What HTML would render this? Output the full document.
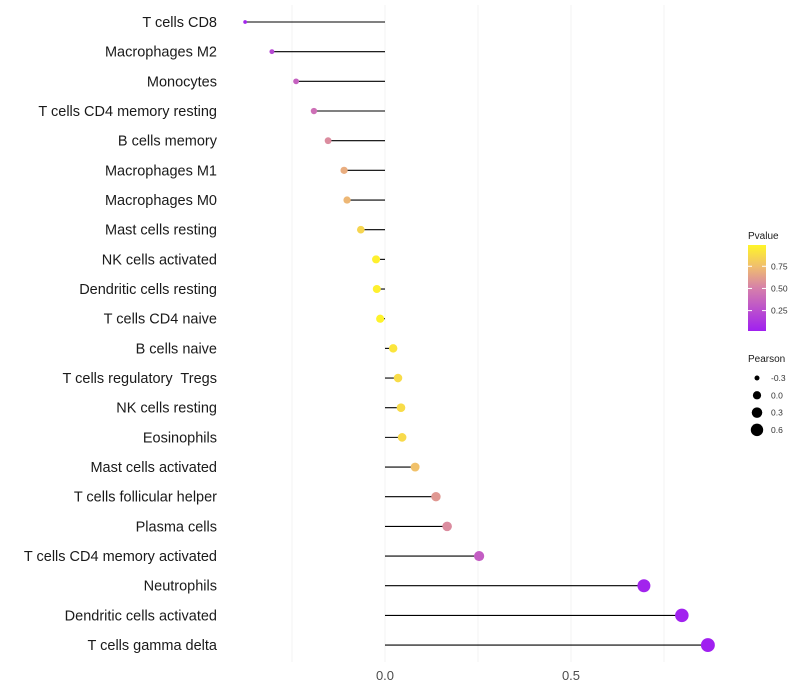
<!DOCTYPE html>
<html><head><meta charset="utf-8"><style>
body{margin:0;background:#fff;font-family:"Liberation Sans",sans-serif;}
svg{display:block}
text{white-space:pre}
</style></head><body>
<svg id="chart" width="800" height="700"></svg>
<script>
const categories=["T cells CD8","Macrophages M2","Monocytes","T cells CD4 memory resting","B cells memory","Macrophages M1","Macrophages M0","Mast cells resting","NK cells activated","Dendritic cells resting","T cells CD4 naive","B cells naive","T cells regulatory  Tregs ","NK cells resting","Eosinophils","Mast cells activated","T cells follicular helper","Plasma cells","T cells CD4 memory activated","Neutrophils","Dendritic cells activated","T cells gamma delta"];
const pearson=[-0.376,-0.304,-0.239,-0.191,-0.153,-0.110,-0.102,-0.065,-0.024,-0.022,-0.013,0.022,0.035,0.043,0.046,0.081,0.137,0.167,0.253,0.696,0.798,0.868];
const pvalue=[0.05,0.22,0.35,0.42,0.55,0.68,0.72,0.85,0.97,0.97,0.98,0.92,0.88,0.88,0.87,0.76,0.6,0.55,0.33,0.04,0.03,0.02];
const xTicks=[0.0,0.5];
const colorTicks=[0.25,0.5,0.75];
const sizeTicks=[-0.3,0.0,0.3,0.6];

const NS="http://www.w3.org/2000/svg";
const svg=document.getElementById('chart');
function mk(t,a,p){const e=document.createElementNS(NS,t);for(const k in a)e.setAttribute(k,a[k]);(p||svg).appendChild(e);return e;}
const x=v=>385+v*372;
const y=i=>22+i*29.67;
const r=v=>Math.sqrt(Math.max(17+36*v,2));
function col(p){
  const t=Math.max(0,Math.min(1,(p-0.02)/0.97));
  const a=[160,32,240],m=[214,128,170],q=[240,190,110],b=[255,245,40];
  let c;
  if(t<0.5){const s=t/0.5;c=a.map((v,k)=>v+(m[k]-v)*s);}
  else if(t<0.75){const s=(t-0.5)/0.25;c=m.map((v,k)=>v+(q[k]-v)*s);}
  else{const s=(t-0.75)/0.25;c=q.map((v,k)=>v+(b[k]-v)*s);}
  return `rgb(${c.map(Math.round).join(',')})`;
}
[-0.25,0,0.25,0.5,0.75].forEach(g=>{
  const l=mk('line',{x1:x(g),x2:x(g),y1:5,y2:662,stroke:'#f3f3f3','stroke-width':1});
  
  
});
xTicks.forEach(t=>{
  const e=mk('text',{x:x(t),y:680,'text-anchor':'middle','font-size':13,fill:'#4d4d4d'});
  e.textContent=t.toFixed(1);
  
  
});
categories.forEach((c,i)=>{
  const t=mk('text',{x:c.endsWith(' ')?217+4:217,y:y(i)+5,'text-anchor':'end','font-size':14.5,fill:'#1a1a1a'});
  t.textContent=c;
  
  
  const l=mk('line',{x1:x(0),x2:x(pearson[i]),y1:y(i),y2:y(i),stroke:'#000','stroke-width':1.1});
  
  
  const d=mk('circle',{cx:x(pearson[i]),cy:y(i),r:r(pearson[i]),fill:col(pvalue[i])});
  
  
});
const lt=mk('text',{x:748,y:239,'font-size':10,fill:'#1a1a1a'});lt.textContent='Pvalue';


const defs=mk('defs',{});
const gr=mk('linearGradient',{id:'g',x1:0,y1:1,x2:0,y2:0},defs);
[[0,'rgb(160,32,240)'],[0.5,'rgb(214,128,170)'],[0.75,'rgb(240,190,110)'],[1,'rgb(255,245,40)']].forEach(s=>mk('stop',{offset:s[0],'stop-color':s[1]},gr));
const cb=mk('rect',{x:748,y:245,width:18,height:86,fill:'url(#g)'});


const cy=p=>331-(p-0.02)/0.97*86;
colorTicks.forEach(t=>{
  mk('line',{x1:748,x2:752,y1:cy(t),y2:cy(t),stroke:'#fff'});
  mk('line',{x1:762,x2:766,y1:cy(t),y2:cy(t),stroke:'#fff'});
  const e=mk('text',{x:771,y:cy(t)+3,'font-size':8.5,fill:'#333'});e.textContent=t.toFixed(2);
  
  
});
const st=mk('text',{x:748,y:362,'font-size':10,fill:'#1a1a1a'});st.textContent='Pearson';


sizeTicks.forEach((t,k)=>{
  const yy=378+k*17.3;
  const c=mk('circle',{cx:757,cy:yy,r:r(t),fill:'#000'});
  
  
  const e=mk('text',{x:771,y:yy+3,'font-size':8.5,fill:'#333'});e.textContent=t.toFixed(1);
  
  
});
</script>
</body></html>
